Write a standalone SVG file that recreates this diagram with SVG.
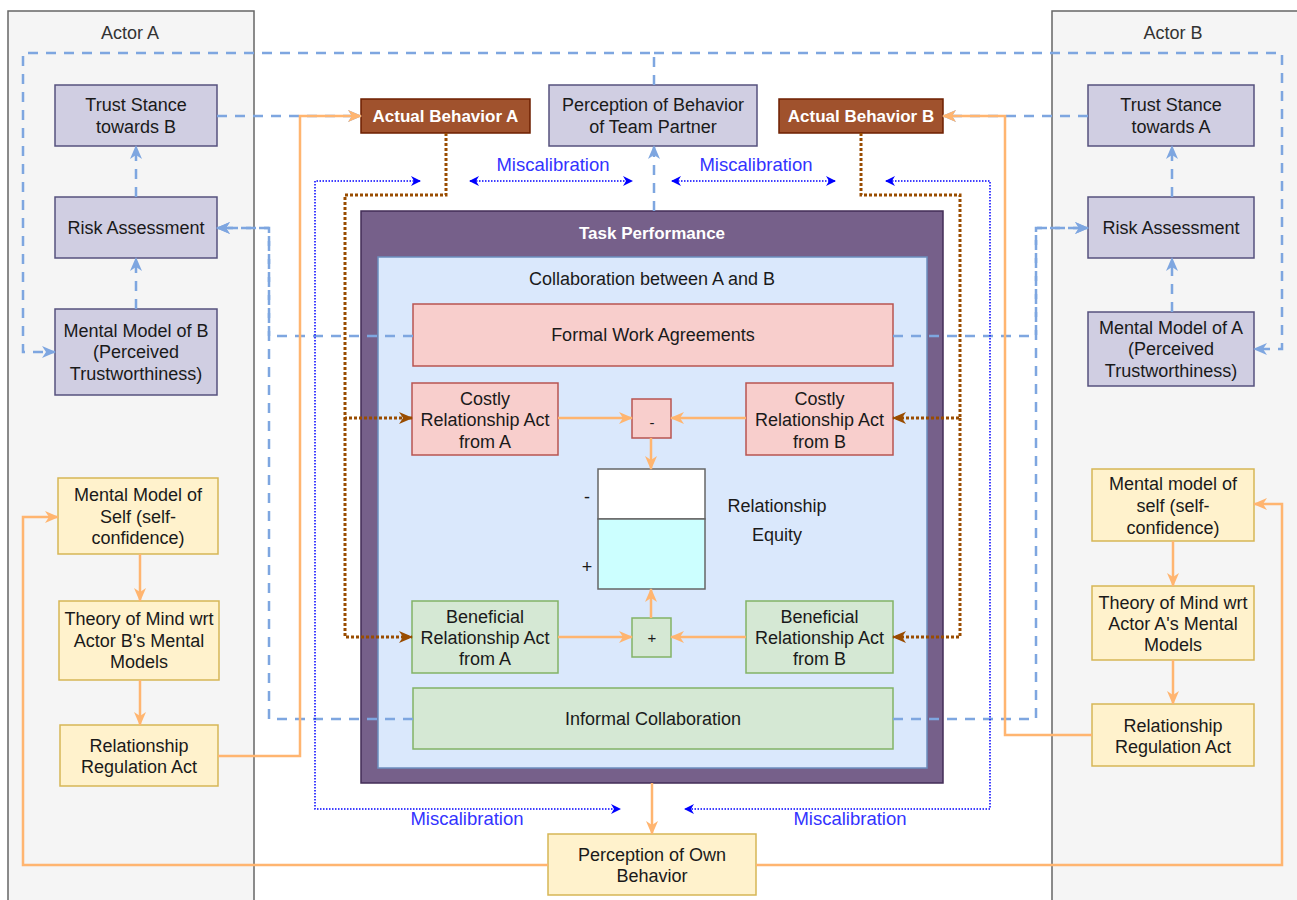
<svg xmlns="http://www.w3.org/2000/svg" width="1297" height="900" viewBox="0 0 1297 900">
<style>
.t{font-family:"Liberation Sans",Arial,sans-serif;font-size:18px;fill:#1a1a1a;text-anchor:middle}
.w{font-family:"Liberation Sans",Arial,sans-serif;font-size:17px;font-weight:bold;fill:#ffffff;text-anchor:middle}
.m{font-family:"Liberation Sans",Arial,sans-serif;font-size:18.5px;fill:#3333ff;text-anchor:middle}
.act{fill:#f5f5f5;stroke:#666666;stroke-width:1.5}
.pur{fill:#d0cee2;stroke:#56517e;stroke-width:1.5}
.yel{fill:#fff2cc;stroke:#d6b656;stroke-width:1.5}
.red{fill:#f8cecc;stroke:#b85450;stroke-width:1.5}
.grn{fill:#d5e8d4;stroke:#82b366;stroke-width:1.5}
.bro{fill:#a0522d;stroke:#6d1f00;stroke-width:1.5}
.bd{fill:none;stroke:#7ea6e0;stroke-width:2.5;stroke-dasharray:10 8}
.or{fill:none;stroke:#ffb570;stroke-width:2.5}
.br{fill:none;stroke:#994c00;stroke-width:3;stroke-dasharray:3 2}
.dt{fill:none;stroke:#0000ff;stroke-width:1.5;stroke-dasharray:1.5 1.5}
</style>
<defs>
<marker id="ab" viewBox="0 0 14 12" refX="13" refY="6" markerWidth="14" markerHeight="12" markerUnits="userSpaceOnUse" orient="auto"><path d="M0,0 L14,6 L0,12 L4,6 Z" fill="#7ea6e0"/></marker>
<marker id="ao" viewBox="0 0 14 12" refX="13" refY="6" markerWidth="14" markerHeight="12" markerUnits="userSpaceOnUse" orient="auto"><path d="M0,0 L14,6 L0,12 L4,6 Z" fill="#ffb570"/></marker>
<marker id="abr" viewBox="0 0 14 12" refX="13" refY="6" markerWidth="14" markerHeight="12" markerUnits="userSpaceOnUse" orient="auto"><path d="M0,0 L14,6 L0,12 L4,6 Z" fill="#994c00"/></marker>
<marker id="ad" viewBox="0 0 10 10" refX="9" refY="5" markerWidth="10" markerHeight="10" markerUnits="userSpaceOnUse" orient="auto-start-reverse"><path d="M0,0 L10,5 L0,10 L3,5 Z" fill="#0000ff"/></marker>
</defs>

<g id="actorA"><rect class="act" x="8" y="11" width="246" height="900"/><text class="t" x="130" y="39" style="fill:#333">Actor A</text></g>
<g id="actorB"><rect class="act" x="1052" y="11" width="250" height="900"/><text class="t" x="1173" y="39" style="fill:#333">Actor B</text></g>

<g id="taskPerformance"><rect x="361" y="211" width="582" height="572" fill="#76608a" stroke="#432d57" stroke-width="1.5"/><text class="w" x="652" y="239">Task Performance</text></g>
<g id="collaboration"><rect x="378" y="257" width="549" height="511" fill="#dae8fc" stroke="#6c8ebf" stroke-width="1.5"/><text class="t" x="652" y="285">Collaboration between A and B</text></g>

<g id="trustB"><rect class="pur" x="55" y="85" width="162" height="61"/><text class="t" x="136" y="111">Trust Stance</text><text class="t" x="136" y="133">towards B</text></g>
<g id="riskA"><rect class="pur" x="55" y="197" width="162" height="61"/><text class="t" x="136" y="234">Risk Assessment</text></g>
<g id="mmB"><rect class="pur" x="55" y="309" width="162" height="86"/><text class="t" x="136" y="337">Mental Model of B</text><text class="t" x="136" y="358">(Perceived</text><text class="t" x="136" y="380">Trustworthiness)</text></g>
<g id="selfA"><rect class="yel" x="58" y="478" width="160" height="76"/><text class="t" x="138" y="501">Mental Model of</text><text class="t" x="138" y="523">Self (self-</text><text class="t" x="138" y="544">confidence)</text></g>
<g id="tomA"><rect class="yel" x="59" y="601" width="160" height="79"/><text class="t" x="139" y="625">Theory of Mind wrt</text><text class="t" x="139" y="647">Actor B's Mental</text><text class="t" x="139" y="668">Models</text></g>
<g id="rraA"><rect class="yel" x="60" y="725" width="158" height="61"/><text class="t" x="139" y="752">Relationship</text><text class="t" x="139" y="773">Regulation Act</text></g>

<g id="actualA"><rect class="bro" x="361" y="99" width="169" height="34"/><text class="w" x="445.5" y="122">Actual Behavior A</text></g>
<g id="percPartner"><rect class="pur" x="549" y="85" width="208" height="61"/><text class="t" x="653" y="111">Perception of Behavior</text><text class="t" x="653" y="133">of Team Partner</text></g>
<g id="actualB"><rect class="bro" x="779" y="99" width="164" height="34"/><text class="w" x="861" y="122">Actual Behavior B</text></g>

<g id="trustA"><rect class="pur" x="1088" y="85" width="166" height="61"/><text class="t" x="1171" y="111">Trust Stance</text><text class="t" x="1171" y="133">towards A</text></g>
<g id="riskB"><rect class="pur" x="1088" y="197" width="166" height="61"/><text class="t" x="1171" y="234">Risk Assessment</text></g>
<g id="mmA"><rect class="pur" x="1088" y="312" width="166" height="74"/><text class="t" x="1171" y="334">Mental Model of A</text><text class="t" x="1171" y="355">(Perceived</text><text class="t" x="1171" y="377">Trustworthiness)</text></g>
<g id="selfB"><rect class="yel" x="1092" y="469" width="162" height="72"/><text class="t" x="1173" y="490">Mental model of</text><text class="t" x="1173" y="512">self (self-</text><text class="t" x="1173" y="534">confidence)</text></g>
<g id="tomB"><rect class="yel" x="1092" y="586" width="162" height="74"/><text class="t" x="1173" y="609">Theory of Mind wrt</text><text class="t" x="1173" y="630">Actor A's Mental</text><text class="t" x="1173" y="651">Models</text></g>
<g id="rraB"><rect class="yel" x="1092" y="704" width="162" height="62"/><text class="t" x="1173" y="732">Relationship</text><text class="t" x="1173" y="753">Regulation Act</text></g>

<g id="formal"><rect class="red" x="413" y="304" width="480" height="62"/><text class="t" x="653" y="341">Formal Work Agreements</text></g>
<g id="costlyA"><rect class="red" x="412" y="383" width="146" height="72"/><text class="t" x="485" y="405">Costly</text><text class="t" x="485" y="426">Relationship Act</text><text class="t" x="485" y="448">from A</text></g>
<g id="minus"><rect class="red" x="632" y="399" width="39" height="39"/><text class="t" x="652" y="428" style="font-size:15px">-</text></g>
<g id="costlyB"><rect class="red" x="746" y="383" width="147" height="72"/><text class="t" x="819.5" y="405">Costly</text><text class="t" x="819.5" y="426">Relationship Act</text><text class="t" x="819.5" y="448">from B</text></g>
<g id="equity"><rect x="598" y="469" width="107" height="50" fill="#ffffff" stroke="#666666" stroke-width="1.5"/><rect x="598" y="519" width="107" height="70" fill="#ccffff" stroke="#666666" stroke-width="1.5"/><text class="t" x="587" y="503">-</text><text class="t" x="587" y="573">+</text><text class="t" x="777" y="512">Relationship</text><text class="t" x="777" y="541">Equity</text></g>
<g id="benA"><rect class="grn" x="412" y="601" width="146" height="72"/><text class="t" x="485" y="623">Beneficial</text><text class="t" x="485" y="644">Relationship Act</text><text class="t" x="485" y="665">from A</text></g>
<g id="plus"><rect class="grn" x="632" y="618" width="39" height="39"/><text class="t" x="652" y="643" style="font-size:15px">+</text></g>
<g id="benB"><rect class="grn" x="746" y="601" width="147" height="72"/><text class="t" x="819.5" y="623">Beneficial</text><text class="t" x="819.5" y="644">Relationship Act</text><text class="t" x="819.5" y="665">from B</text></g>
<g id="informal"><rect class="grn" x="413" y="688" width="480" height="61"/><text class="t" x="653" y="725">Informal Collaboration</text></g>
<g id="percOwn"><rect class="yel" x="548" y="834" width="208" height="61"/><text class="t" x="652" y="861">Perception of Own</text><text class="t" x="652" y="882">Behavior</text></g>

<g id="connectors">
<path class="bd" d="M654,85 V53 H23 V352 H55" marker-end="url(#ab)"/>
<path class="bd" d="M654,53 H1282 V349 H1254" marker-end="url(#ab)"/>
<path class="bd" d="M654,211 V146" marker-end="url(#ab)"/>
<path class="bd" d="M217,116 H361" marker-end="url(#ab)"/>
<path class="bd" d="M1088,116 H943" marker-end="url(#ab)"/>
<path class="bd" d="M136,197 V146" marker-end="url(#ab)"/>
<path class="bd" d="M136,309 V258" marker-end="url(#ab)"/>
<path class="bd" d="M1172,197 V146" marker-end="url(#ab)"/>
<path class="bd" d="M1172,312 V258" marker-end="url(#ab)"/>
<path class="bd" d="M413,336 H269 V228 H217" marker-end="url(#ab)"/>
<path class="bd" d="M413,719 H269 V228 H217" marker-end="url(#ab)"/>
<path class="bd" d="M893,336 H1036 V228 H1088" marker-end="url(#ab)"/>
<path class="bd" d="M893,719 H1036 V228 H1088" marker-end="url(#ab)"/>

<path class="or" d="M218,756 H300 V116 H361" marker-end="url(#ao)"/>
<path class="or" d="M1092,735 H1005 V116 H943" marker-end="url(#ao)"/>
<path class="or" d="M140,554 V601" marker-end="url(#ao)"/>
<path class="or" d="M140,680 V725" marker-end="url(#ao)"/>
<path class="or" d="M1173,541 V586" marker-end="url(#ao)"/>
<path class="or" d="M1173,660 V704" marker-end="url(#ao)"/>
<path class="or" d="M652,783 V834" marker-end="url(#ao)"/>
<path class="or" d="M548,865 H23 V517 H58" marker-end="url(#ao)"/>
<path class="or" d="M756,865 H1282 V504 H1254" marker-end="url(#ao)"/>
<path class="or" d="M558,418 H632" marker-end="url(#ao)"/>
<path class="or" d="M746,418 H671" marker-end="url(#ao)"/>
<path class="or" d="M651,438 V469" marker-end="url(#ao)"/>
<path class="or" d="M558,637 H632" marker-end="url(#ao)"/>
<path class="or" d="M746,637 H671" marker-end="url(#ao)"/>
<path class="or" d="M651,618 V589" marker-end="url(#ao)"/>

<path class="br" d="M446,133 V195 H345 V418 H412" marker-end="url(#abr)"/>
<path class="br" d="M345,418 V637 H412" marker-end="url(#abr)"/>
<path class="br" d="M861,133 V195 H960 V418 H893" marker-end="url(#abr)"/>
<path class="br" d="M960,418 V637 H893" marker-end="url(#abr)"/>

<path class="dt" d="M420,181 H315 V809 H620" marker-start="url(#ad)" marker-end="url(#ad)"/>
<path class="dt" d="M470,181 H632" marker-start="url(#ad)" marker-end="url(#ad)"/>
<path class="dt" d="M672,181 H835" marker-start="url(#ad)" marker-end="url(#ad)"/>
<path class="dt" d="M886,181 H990 V809 H685" marker-start="url(#ad)" marker-end="url(#ad)"/>
<text class="m" x="553" y="171">Miscalibration</text>
<text class="m" x="756" y="171">Miscalibration</text>
<text class="m" x="467" y="825">Miscalibration</text>
<text class="m" x="850" y="825">Miscalibration</text>
</g>
</svg>
